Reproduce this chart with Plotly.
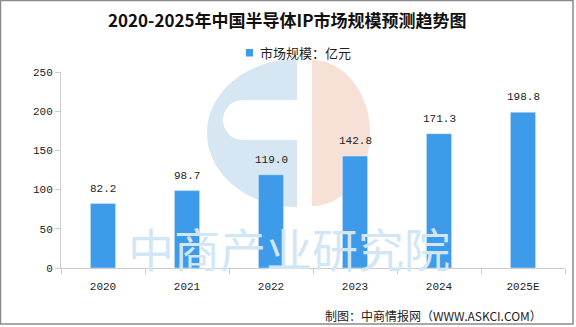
import numpy as np
import plotly.graph_objects as go

categories = ["2020", "2021", "2022", "2023", "2024", "2025E"]
values = [82.2, 98.7, 119.0, 142.8, 171.3, 198.8]
labels = ["82.2", "98.7", "119.0", "142.8", "171.3", "198.8"]
series_name = "市场规模：亿元"
title_text = "2020-2025年中国半导体IP市场规模预测趋势图"
source_text = "制图：中商情报网（WWW.ASKCI.COM）"
watermark_text = "中商产业研究院"

W, H = 576, 327
L, R, T, B = 61, 11, 72, 59
PW, PH = W - L - R, H - T - B

def px(x):
    return (x - L) / PW

def py(y):
    return (H - B - y) / PH

def poly(points):
    return "M " + " L ".join(f"{px(x):.4f},{py(y):.4f}" for x, y in points) + " Z"

FONT = "Noto Sans CJK SC"
MONO = "Liberation Mono, Noto Sans CJK SC"
BAR = "#3e9bea"

fig = go.Figure()
fig.add_trace(go.Bar(
    x=categories, y=values, name=series_name,
    marker=dict(color=BAR), width=0.30,
    hoverinfo="x+y",
))

shapes = []
# watermark logo: blue C on the left, orange half disc on the right
cx, cy, rx, ry = 297, 133, 90, 74
th = np.linspace(np.pi / 2, 3 * np.pi / 2, 80)
shapes.append(dict(type="path", path=poly([(cx + rx * np.cos(t), cy - ry * np.sin(t)) for t in th]),
                   xref="paper", yref="paper", fillcolor="#d6e6f2", line=dict(width=0), layer="below"))
# slot of the C (rounded left end)
sr = 20
slot = [(297, 100)]
slot += [(223 + sr + sr * np.cos(t), 120 - sr * np.sin(t)) for t in np.linspace(np.pi / 2, 3 * np.pi / 2, 30)]
slot += [(297, 140)]
shapes.append(dict(type="path", path=poly(slot), xref="paper", yref="paper",
                   fillcolor="white", line=dict(width=0), layer="below"))
th2 = np.linspace(-np.pi / 2, np.pi / 2, 80)
shapes.append(dict(type="path", path=poly([(312 + 58 * np.cos(t), 133 - 73 * np.sin(t)) for t in th2]),
                   xref="paper", yref="paper", fillcolor="#f7e0d6", line=dict(width=0), layer="below"))
# white band above the logo top
shapes.append(dict(type="rect", xref="paper", yref="paper",
                   x0=px(190), x1=px(390), y0=py(60), y1=py(20),
                   fillcolor="white", line=dict(width=0), layer="below"))
# outer border
shapes.append(dict(type="rect", xref="paper", yref="paper",
                   x0=px(0.5), x1=px(573), y0=py(324), y1=py(0.5),
                   line=dict(color="#8a8a8a", width=1.5), fillcolor="rgba(0,0,0,0)"))
# legend marker
shapes.append(dict(type="rect", xref="paper", yref="paper",
                   x0=px(246), x1=px(253), y0=py(56.5), y1=py(49),
                   fillcolor=BAR, line=dict(width=0)))

annotations = [
    dict(text=watermark_text, x=px(289), xref="paper", y=py(247), yref="paper",
         showarrow=False, font=dict(size=46, color="#d3e6f5", family=FONT),
         xanchor="center", yanchor="middle"),
    dict(text=f"<b>{title_text}</b>", x=px(287), xref="paper", y=py(20), yref="paper",
         showarrow=False, font=dict(size=17, color="#111111", family=FONT),
         xanchor="center", yanchor="middle"),
    dict(text=series_name, x=px(258), xref="paper", y=py(52.5), yref="paper",
         showarrow=False, font=dict(size=13, color="#222222", family=FONT),
         xanchor="left", yanchor="middle"),
    dict(text=source_text, x=px(544), xref="paper", y=py(315), yref="paper",
         showarrow=False, font=dict(size=12, color="#222222", family=FONT),
         xanchor="right", yanchor="middle"),
]
# data labels: category axis positions are category indices
for i, (v, t) in enumerate(zip(values, labels)):
    annotations.append(dict(text=t, x=i, y=v, xref="x", yref="y", showarrow=False,
                            yanchor="bottom", yshift=7,
                            font=dict(size=11, color="#222222", family=MONO)))

fig.update_layout(
    width=W, height=H,
    margin=dict(l=L, r=R, t=T, b=B),
    paper_bgcolor="white", plot_bgcolor="rgba(0,0,0,0)",
    showlegend=False,
    shapes=shapes, annotations=annotations,
    font=dict(family=FONT, color="#222222"),
    xaxis=dict(type="category", categoryorder="array", categoryarray=categories,
               range=[-0.5, len(categories) - 0.5],
               showline=True, linecolor="#cccccc", linewidth=1,
               ticks="outside", tickson="boundaries", ticklen=5, tickcolor="#cccccc",
               ticklabelstandoff=8,
               tickfont=dict(size=11, color="#222222", family=MONO), showgrid=False),
    yaxis=dict(range=[0, 250], dtick=50, showline=True, linecolor="#cccccc", linewidth=1,
               ticks="outside", ticklen=5, tickcolor="#cccccc", showgrid=False,
               zeroline=False, tickfont=dict(size=11, color="#222222", family=MONO)),
)

fig.write_html("out.html")
